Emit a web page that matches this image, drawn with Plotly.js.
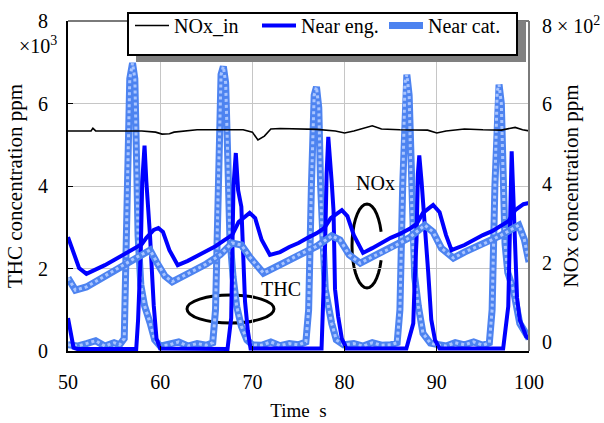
<!DOCTYPE html>
<html><head><meta charset="utf-8">
<script src="https://cdn.plot.ly/plotly-3.0.1.min.js"></script>
<style>html,body{margin:0;padding:0;background:#fff}#chart{width:604px;height:423px}</style>
</head><body><div id="chart"></div>
<script>
// ---- data (time in s) ----
const catThcTime = [50,51,52,53,54,55,55.6, 56.1,56.4,56.7,57.0,57.25,57.45,57.6,57.9,58.3,58.9,59.4,60, 61,62,63,64,65, 65.7,66.0,66.3,66.6,66.85,67.1,67.35,67.55,67.9,68.3,68.8,69.4,70, 71,72,73,74,75, 75.8,76.1,76.4,76.7,76.95,77.2,77.4,77.6,77.9,78.6,79.1,79.9, 81,82,83,84,85, 85.7,86.0,86.3,86.55,86.75,87.0,87.2,87.4,87.6,88.0,88.5,89.3, 90,91,92,93,94,95, 95.7,96.0,96.3,96.55,96.75,97.0,97.2,97.4,97.7,98.3,99.0,100];
const catThc = [0.15,0.12,0.18,0.25,0.12,0.2,0.15, 0.3,3.5,6.6,6.98,6.6,4.5,2.8,1.6,1.1,0.68,0.27,0.12, 0.15,0.22,0.12,0.18,0.14, 0.2,1.0,4.0,6.7,6.9,6.5,4.5,2.8,1.8,1.08,0.6,0.27,0.15, 0.14,0.22,0.13,0.18,0.15, 0.22,1.0,4.0,6.2,6.4,5.9,4.0,2.5,1.5,0.67,0.27,0.15, 0.18,0.12,0.2,0.14,0.15, 0.2,1.0,4.0,6.5,6.7,6.2,4.2,2.6,1.8,1.08,0.43,0.19, 0.15,0.12,0.2,0.15,0.22,0.14, 0.2,1.0,4.0,6.3,6.46,6.0,4.2,2.6,1.9,1.49,0.67,0.3];

const engThcTime = [50,50.3,50.6,51,57.4,57.6,57.9,58.05,58.3,58.5,58.7,58.9,59.3,59.6,60,67.3,67.7,67.95,68.2,68.45,68.8,68.95,69.2,69.5,69.8,77.5,77.7,77.9,78.05,78.23,78.6,78.8,78.96,79.3,79.7,80.2,86.7,87.45,87.6,87.8,87.95,88.1,88.35,88.55,88.8,89.07,89.4,89.8,90.3,97.2,97.75,97.9,98.12,98.3,98.5,98.7,99.0,99.7,100];
const engThc = [0.8,0.4,0.08,0.05,0.05,0.75,2.5,4.1,4.98,4.1,3.5,2.78,1.1,0.3,0.06,0.05,0.8,4.0,4.8,3.9,3.5,2.8,1.2,0.5,0.06,0.06,1.1,2.7,4.3,5.19,4.1,3.4,1.5,0.84,0.3,0.06,0.06,0.67,1.7,2.7,4.3,4.74,4.1,3.5,2.9,1.9,0.76,0.27,0.06,0.06,1.08,2.7,4.84,3.76,2.7,1.3,0.76,0.35,0.3];

const engNoxTime = [50,50.5,51.2,52,53,54,55,56,57,58,58.5,59.3,59.8,60.3,61,61.9,63,64,65,66,67,67.8,68.5,69.7,70.3,71,71.9,73,74,75,76,77,77.8,78.5,79.7,80.3,81,82,83,84,85,86,87,87.8,88.5,89.6,90.3,91,91.6,93,94,95,96,97,97.8,98.5,99.4,100];
const engNox = [2.65,2.32,1.87,1.72,1.82,1.94,2.07,2.20,2.35,2.47,2.63,2.83,2.88,2.78,2.32,1.94,2.05,2.17,2.30,2.42,2.58,2.70,3.03,3.26,3.13,2.58,2.20,2.27,2.40,2.50,2.63,2.75,2.88,3.13,3.33,3.18,2.70,2.25,2.37,2.50,2.63,2.73,2.85,2.98,3.26,3.46,3.28,2.70,2.32,2.45,2.58,2.70,2.80,2.93,3.06,3.33,3.48,3.51];

const catNoxTime = [50,50.8,52,54,56,57.5,58.9,59.6,60.5,61.3,63,65,66.5,67.8,68.8,69.8,71.2,73,75,77,78.6,79.5,80.5,81.7,83,85,87,88.7,89.6,90.5,91.8,93,95,97,98.9,99.5,100];
const catNox = [1.62,1.31,1.39,1.67,1.94,2.15,2.32,2.02,1.67,1.52,1.72,1.97,2.20,2.50,2.45,2.12,1.74,1.94,2.20,2.42,2.68,2.58,2.20,1.99,2.15,2.37,2.63,2.95,2.78,2.37,2.12,2.27,2.47,2.70,2.95,2.58,2.02];

const noxInTime = [50,52.5,52.7,53,58,59.5,60.2,61,61.5,62.5,64,66,69,70,70.6,71.3,72,73,75,77,79,80,81,82,83,84,86,89,90,91,93,95,97,98.5,99.3,100];
const noxIn = [5.33,5.33,5.40,5.33,5.33,5.30,5.25,5.26,5.30,5.33,5.36,5.36,5.36,5.30,5.10,5.20,5.38,5.39,5.38,5.37,5.33,5.28,5.33,5.40,5.46,5.38,5.36,5.35,5.28,5.33,5.38,5.36,5.35,5.42,5.36,5.33];

const xTicks = [50,60,70,80,90,100];
const yTicks = [0,2,4,6,8];
const y2Ticks = [0,2,4,6];

// ---- style ----
const FONT = 'Liberation Serif';
const W = 604, H = 423, L = 68, R = 75, T = 21, B = 72;
const pw = W - L - R, ph = H - T - B;
const px = v => (v - L) / pw;          // pixel -> paper x
const py = v => (H - B - v) / ph;      // pixel -> paper y

const catColor = '#4d83f0', catDot = '#a9c5ff', engColor = '#0000ff';

const traces = [
  {x: noxInTime, y: noxIn, yaxis: 'y2', mode: 'lines', name: 'NOx_in',
   line: {color: '#000', width: 1.6}, legendrank: 1},
  {x: catThcTime, y: catThc, mode: 'lines', name: 'Near cat.', legendgroup: 'cat',
   line: {color: catColor, width: 7}, legendrank: 3},
  {x: catThcTime, y: catThc, mode: 'lines', showlegend: false, legendgroup: 'cat',
   line: {color: catDot, width: 3, dash: 'dot'}},
  {x: catNoxTime, y: catNox, yaxis: 'y2', mode: 'lines', showlegend: false, legendgroup: 'cat',
   line: {color: catColor, width: 7}},
  {x: catNoxTime, y: catNox, yaxis: 'y2', mode: 'lines', showlegend: false, legendgroup: 'cat',
   line: {color: catDot, width: 3, dash: 'dot'}},
  {x: engThcTime, y: engThc, mode: 'lines', name: 'Near eng.', legendgroup: 'eng',
   line: {color: engColor, width: 4}, legendrank: 2},
  {x: engNoxTime, y: engNox, yaxis: 'y2', mode: 'lines', showlegend: false, legendgroup: 'eng',
   line: {color: engColor, width: 4}}
];

// NOx ellipse as an open arc
const arc = [];
const cx = 367, cy = 246, rx = 15, ry = 42;
for (let a = 20; a <= 340; a += 10) {
  const t = a * Math.PI / 180;
  arc.push((arc.length ? 'L' : 'M') + px(cx + rx * Math.cos(t)).toFixed(4) + ',' + py(cy - ry * Math.sin(t)).toFixed(4));
}

const f = (size) => ({family: FONT, size: size, color: '#000'});

const layout = {
  width: W, height: H,
  margin: {l: L, r: R, t: T, b: B, pad: 0, autoexpand: false},
  paper_bgcolor: '#fff', plot_bgcolor: '#fff',
  font: f(20),
  showlegend: true,
  legend: {orientation: 'h', x: px(130), y: py(6), xanchor: 'left', yanchor: 'top',
           bgcolor: 'rgba(0,0,0,0)', borderwidth: 0, itemwidth: 34,
           entrywidth: 78, entrywidthmode: 'pixels',
           font: f(20)},
  xaxis: {range: [50, 100], tickvals: xTicks, ticktext: xTicks.map(String),
          showgrid: true, gridcolor: '#c6c6c6', gridwidth: 1, zeroline: false,
          showline: true, linecolor: '#000', linewidth: 2,
          ticks: 'inside', ticklen: 5, tickcolor: '#000', ticklabelstandoff: 12,
          tickfont: f(20), automargin: false,
          title: {text: 'Time  s', font: f(19), standoff: 12}},
  yaxis: {range: [0, 8], tickvals: yTicks, ticktext: yTicks.map(String),
          showgrid: true, gridcolor: '#c6c6c6', gridwidth: 1, zeroline: false,
          showline: true, linecolor: '#000', linewidth: 2,
          ticks: 'inside', ticklen: 5, tickcolor: '#000', ticklabelstandoff: 14,
          tickfont: f(20), automargin: false,
          title: {text: 'THC concentration ppm', font: f(21), standoff: 10}},
  yaxis2: {overlaying: 'y', side: 'right', range: [-0.227, 8.106],
           tickvals: y2Ticks, ticktext: y2Ticks.map(String),
           showgrid: false, zeroline: false, showline: false, ticks: '',
           ticklabelstandoff: 12, tickfont: f(20), automargin: false,
           title: {text: 'NOx concentration ppm', font: f(21), standoff: 12}},
  shapes: [
    {type: 'line', xref: 'paper', yref: 'paper', x0: 0, x1: 1, y0: 1, y1: 1, line: {color: '#7a7a7a', width: 2}},
    {type: 'line', xref: 'paper', yref: 'paper', x0: 1, x1: 1, y0: 0, y1: 1, line: {color: '#7a7a7a', width: 2}},
    {type: 'rect', xref: 'paper', yref: 'paper', x0: px(136), x1: px(526), y0: py(21), y1: py(62),
     fillcolor: '#808080', line: {width: 0}, layer: 'above'},
    {type: 'rect', xref: 'paper', yref: 'paper', x0: px(128), x1: px(517), y0: py(13), y1: py(55),
     fillcolor: '#fff', line: {color: '#000', width: 2}, layer: 'above'},
    {type: 'circle', xref: 'paper', yref: 'paper', x0: px(187), x1: px(274), y0: py(323), y1: py(295),
     line: {color: '#000', width: 3}, layer: 'between'},
    {type: 'path', xref: 'paper', yref: 'paper', path: arc.join(''), line: {color: '#000', width: 3}, layer: 'between'}
  ],
  annotations: [
    {xref: 'paper', yref: 'paper', x: px(38), y: py(45), text: '×10<sup>3</sup>', showarrow: false,
     font: f(20), xanchor: 'center', yanchor: 'middle'},
    {xref: 'paper', yref: 'paper', x: px(540), y: py(25), text: '8 × 10<sup>2</sup>', showarrow: false,
     font: f(20), xanchor: 'left', yanchor: 'middle'},
    {xref: 'paper', yref: 'paper', x: px(375), y: py(183), text: 'NOx', showarrow: false,
     font: f(20), xanchor: 'center', yanchor: 'middle'},
    {xref: 'paper', yref: 'paper', x: px(281), y: py(289), text: 'THC', showarrow: false,
     font: f(20), xanchor: 'center', yanchor: 'middle'}
  ]
};

Plotly.newPlot('chart', traces, layout, {displayModeBar: false, staticPlot: true});
</script>
</body></html>
